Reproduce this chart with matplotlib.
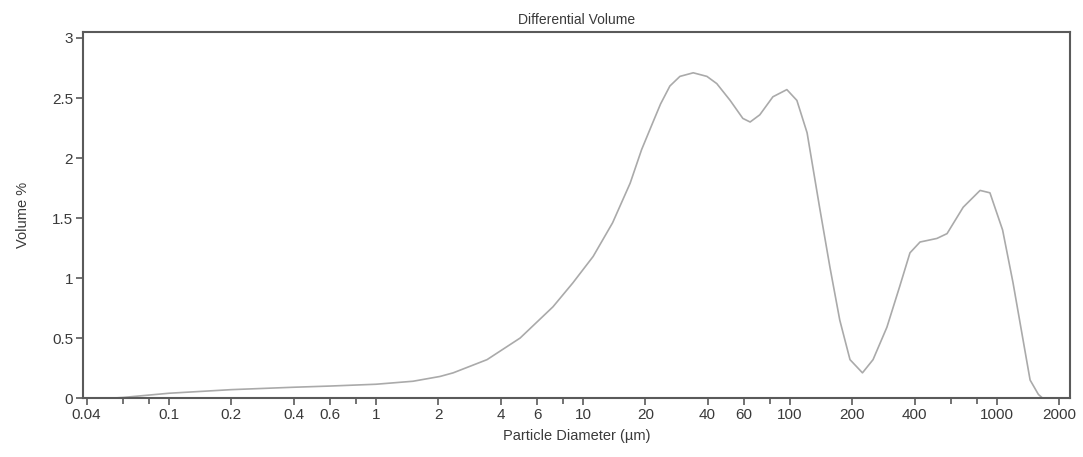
import numpy as np
import matplotlib.pyplot as plt
from matplotlib.ticker import FixedLocator, NullFormatter

plt.rcParams['font.family'] = ['Liberation Sans', 'DejaVu Sans']

# particle diameter (um) and differential volume (%)
diameter = [0.0536, 0.06, 0.1, 0.2, 0.4, 0.6, 1.0, 1.51, 2.04, 2.36, 3.44, 4.97,
            7.16, 8.94, 11.2, 13.9, 16.9, 19.2, 21.8, 23.7, 26.3, 29.4, 34.1, 39.7,
            44.3, 51.4, 59.2, 64.2, 71.5, 82.7, 96.6, 108, 121, 139, 156, 174,
            195, 224, 252, 294, 339, 380, 425, 513, 574, 687, 829, 925, 1065,
            1196, 1446, 1586, 1660]
volume = [0.0, 0.005, 0.04, 0.07, 0.09, 0.10, 0.115, 0.14, 0.18, 0.21, 0.32, 0.50,
          0.76, 0.96, 1.18, 1.46, 1.79, 2.07, 2.30, 2.45, 2.60, 2.68, 2.71, 2.68,
          2.62, 2.48, 2.33, 2.30, 2.36, 2.51, 2.57, 2.48, 2.21, 1.59, 1.09, 0.65,
          0.32, 0.21, 0.32, 0.59, 0.93, 1.21, 1.30, 1.33, 1.37, 1.59, 1.73, 1.71, 1.40,
          0.96, 0.15, 0.03, 0.0]

major_ticks = [0.04, 0.1, 0.2, 0.4, 0.6, 1, 2, 4, 6, 10, 20, 40, 60, 100, 200, 400, 1000, 2000]
major_labels = ['0.04', '0.1', '0.2', '0.4', '0.6', '1', '2', '4', '6', '10', '20', '40',
                '60', '100', '200', '400', '1000', '2000']
minor_ticks = [0.06, 0.08, 0.8, 8, 80, 600, 800]
y_ticks = [0, 0.5, 1, 1.5, 2, 2.5, 3]
y_labels = ['0', '0.5', '1', '1.5', '2', '2.5', '3']

txt = '#3a3a3a'
frame = '#5a5a5a'

fig = plt.figure(figsize=(10.83, 4.57), dpi=100)
ax = fig.add_axes([0.0766, 0.129, 0.9114, 0.801])

ax.plot(diameter, volume, color='#aaaaaa', lw=1.2)

ax.set_xscale('log')
ax.set_xlim(0.0384, 2254)
ax.set_ylim(0, 3.05)

ax.xaxis.set_major_locator(FixedLocator(major_ticks))
ax.set_xticklabels(major_labels)
ax.xaxis.set_minor_locator(FixedLocator(minor_ticks))
ax.xaxis.set_minor_formatter(NullFormatter())
ax.set_yticks(y_ticks)
ax.set_yticklabels(y_labels)

ax.tick_params(axis='both', which='major', direction='out', length=5, width=1.2,
               color=frame, labelcolor=txt, labelsize=11, pad=2)
ax.tick_params(axis='x', which='minor', direction='out', length=4, width=1.2, color=frame)

for s in ax.spines.values():
    s.set_color(frame)
    s.set_linewidth(1.5)

ax.set_title('Differential Volume', fontsize=10, color=txt, pad=6)
ax.set_xlabel('Particle Diameter (µm)', fontsize=10.5, color=txt, labelpad=5)
ax.set_ylabel('Volume %', fontsize=10.5, color=txt, labelpad=16)

fig.savefig('out.png', dpi=100)
